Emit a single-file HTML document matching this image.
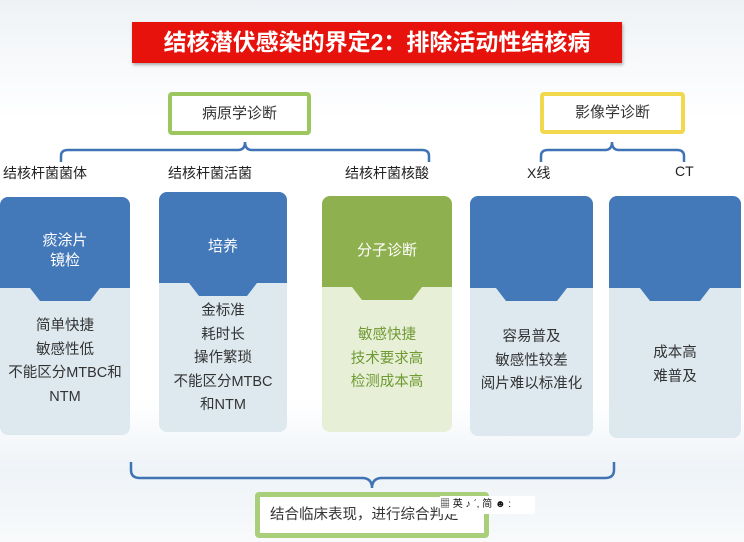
<!DOCTYPE html>
<html><head><meta charset="utf-8"><style>
body{margin:0;width:744px;height:542px;overflow:hidden;background:linear-gradient(#eef2f5 0,#f7f9fb 60px,#fff 120px,#fff 400px,#eef3f7 470px,#f8fafb 542px);font-family:"Liberation Sans","Noto Sans CJK SC",sans-serif;position:relative}
.a{position:absolute}
.title{left:132px;top:22px;width:490px;height:41px;background:#e8120c;color:#fff;font-weight:bold;font-size:23px;text-align:center;line-height:41px;box-shadow:1px 2px 3px #aaa}
.box{background:#fff;text-align:center;font-size:15px;color:#333;box-sizing:border-box;border-radius:4px}
.lbl{font-size:14px;color:#222;top:163px}
.card{border-radius:8px;overflow:hidden;background:#dde9ef;text-align:center}
.hd{position:absolute;left:0;right:0;top:0;color:#fff;font-size:15px}
.bd{position:absolute;left:0;right:0;font-size:14.5px;color:#333;line-height:23.5px}
</style></head><body>
<div class="a title">结核潜伏感染的界定2：排除活动性结核病</div>
<div class="a box" style="left:168px;top:92px;width:143px;height:43px;border:4px solid #9cc75e;line-height:35px">病原学诊断</div>
<div class="a box" style="left:540px;top:92px;width:145px;height:42px;border:4px solid #f1d84c;line-height:34px">影像学诊断</div>
<svg class="a" style="left:0;top:0" width="744" height="542">
<g fill="none" stroke="#3f73b5" stroke-width="2.5">
<path d="M61 162 V156 Q61 150 68 150 H238 Q245 150 245 142 Q245 150 252 150 H422 Q429 150 429 156 V162"/>
<path d="M541 162 V156 Q541 150 548 150 H605 Q612 150 612 142 Q612 150 619 150 H677 Q684 150 684 156 V162"/>
<path d="M131 462 V470 Q131 478 140 478 H362 Q372 478 372 488 Q372 478 382 478 H605 Q614 478 614 470 V462"/>
</g></svg>
<div class="a lbl" style="left:3px">结核杆菌菌体</div>
<div class="a lbl" style="left:168px">结核杆菌活菌</div>
<div class="a lbl" style="left:345px">结核杆菌核酸</div>
<div class="a lbl" style="left:527px">X线</div>
<div class="a lbl" style="left:675px">CT</div>

<!-- cards -->
<div class="a card" style="left:0;top:197px;width:130px;height:238px">
<svg class="a" style="left:0;top:0" width="130" height="110"><path d="M0 0H130V91H100L90 104H40L30 91H0Z" fill="#4479b9"/></svg>
<div class="hd" style="top:34px;line-height:20px">痰涂片<br>镜检</div>
<div class="bd" style="top:118px">简单快捷<br>敏感性低<br>不能区分MTBC和<br>NTM</div></div>

<div class="a card" style="left:159px;top:192px;width:128px;height:240px">
<svg class="a" style="left:0;top:0" width="128" height="110"><path d="M0 0H128V91H98L88 104H40L30 91H0Z" fill="#4479b9"/></svg>
<div class="hd" style="top:43px">培养</div>
<div class="bd" style="top:108px">金标准<br>耗时长<br>操作繁琐<br>不能区分MTBC<br>和NTM</div></div>

<div class="a card" style="left:322px;top:196px;width:130px;height:236px;background:#e7efd6">
<svg class="a" style="left:0;top:0" width="130" height="110"><path d="M0 0H130V91H100L90 104H40L30 91H0Z" fill="#8fb04e"/></svg>
<div class="hd" style="top:43px">分子诊断</div>
<div class="bd" style="top:128px;color:#6f9a34">敏感快捷<br>技术要求高<br>检测成本高</div></div>

<div class="a card" style="left:470px;top:196px;width:123px;height:240px">
<svg class="a" style="left:0;top:0" width="123" height="110"><path d="M0 0H123V92H97L87 105H36L26 92H0Z" fill="#4479b9"/></svg>
<div class="bd" style="top:130px">容易普及<br>敏感性较差<br>阅片难以标准化</div></div>

<div class="a card" style="left:609px;top:196px;width:132px;height:242px">
<svg class="a" style="left:0;top:0" width="132" height="110"><path d="M0 0H132V92H101L91 105H41L31 92H0Z" fill="#4479b9"/></svg>
<div class="bd" style="top:146px">成本高<br>难普及</div></div>

<div class="a box" style="left:255px;top:492px;width:234px;height:46px;border:5px solid #a9cf7a;line-height:36px;font-size:14.5px;text-align:left;padding-left:10px">结合临床表现，进行综合判定</div>
<div class="a" style="left:440px;top:496px;width:95px;height:18px;background:#fff;font-size:10px;line-height:18px;color:#111">▦ 英 ♪ ˊ, 简 ☻ :</div>
</body></html>
